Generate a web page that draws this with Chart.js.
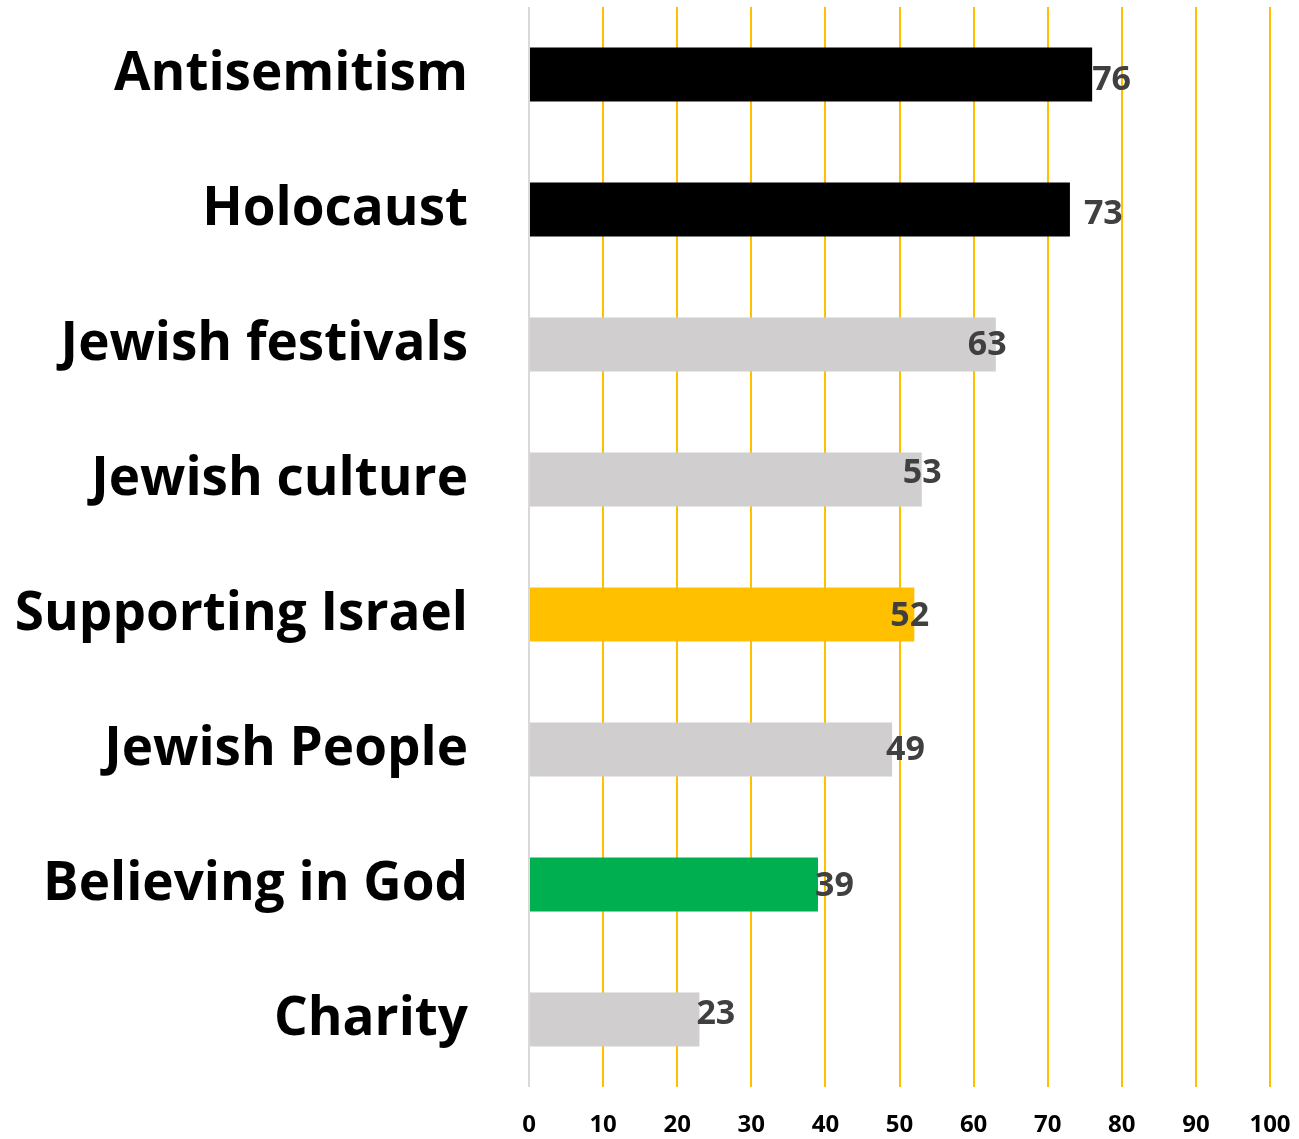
<!DOCTYPE html>
<html>
<head>
<meta charset="utf-8">
<script src="https://cdn.jsdelivr.net/npm/chart.js@4/dist/chart.umd.min.js"></script>
<style>
  body { margin: 0; background: #fff; }
</style>
</head>
<body>
<canvas id="grafico" width="1299" height="1139"></canvas>
<script>
// dados
var categorias = ['Antisemitism', 'Holocaust', 'Jewish festivals', 'Jewish culture', 'Supporting Israel', 'Jewish People', 'Believing in God', 'Charity']
var valores = [76, 73, 63, 53, 52, 49, 39, 23]
var ticksX = [0, 10, 20, 30, 40, 50, 60, 70, 80, 90, 100]

// estilo
var cores = ['#000000', '#000000', '#D0CECE', '#D0CECE', '#FFC000', '#D0CECE', '#00B050', '#D0CECE']
var desvioRotuloX = [0, 14, -28, -19, -24, -6, -3, -3]
var desvioRotuloY = [6, 5, 1, -6, 2, 1, 2, -5]

// rotulos de valor ao lado das barras
const rotulos = {
    id: 'rotulos',
    afterDatasetsDraw(chart) {
        const ctx = chart.ctx
        const meta = chart.getDatasetMeta(0)
        ctx.save()
        ctx.font = 'bold 34px "Open Sans"'
        ctx.fillStyle = '#404040'
        ctx.textAlign = 'left'
        ctx.textBaseline = 'middle'
        meta.data.forEach(function(barra, i) {
            ctx.fillText(String(valores[i]), barra.x + desvioRotuloX[i], barra.y + desvioRotuloY[i])
        })
        ctx.restore()
    }
}

const ctx = document.getElementById('grafico')

var grafico = new Chart(ctx, {
    type: 'bar',
    data: {
        labels: categorias,
        datasets: [{
            data: valores,
            backgroundColor: cores,
            borderWidth: 0,
            barPercentage: 0.8,
            categoryPercentage: 0.5
        }]
    },
    options: {
        indexAxis: 'y',
        responsive: false,
        animation: false,
        layout: {
            padding: { top: 7, right: 29, bottom: 0, left: 0 }
        },
        plugins: {
            legend: { display: false },
            tooltip: { enabled: false }
        },
        scales: {
            x: {
                min: 0,
                max: 100,
                afterBuildTicks: function(scale) {
                    scale.ticks = ticksX.map(v => ({ value: v }))
                },
                afterFit: function(scale) {
                    scale.height = 52
                    scale.paddingLeft = 0
                    scale.paddingRight = 0
                },
                grid: {
                    color: function(c) {
                        return c.tick && c.tick.value === 0 ? '#D9D9D9' : '#FFC000'
                    },
                    lineWidth: 2,
                    drawTicks: false
                },
                border: { display: false },
                ticks: {
                    padding: 24,
                    color: '#000000',
                    font: { family: '"Liberation Sans Narrow", "Open Sans"', weight: 'bold', size: 24 }
                }
            },
            y: {
                afterFit: function(scale) {
                    scale.width = 529
                    scale.paddingTop = 0
                    scale.paddingBottom = 0
                },
                grid: { display: false, drawTicks: false },
                border: { display: false },
                ticks: {
                    padding: 61,
                    color: '#000000',
                    font: { family: '"Open Sans"', weight: 'bold', size: 53 }
                }
            }
        }
    },
    plugins: [rotulos]
})
</script>
</body>
</html>
